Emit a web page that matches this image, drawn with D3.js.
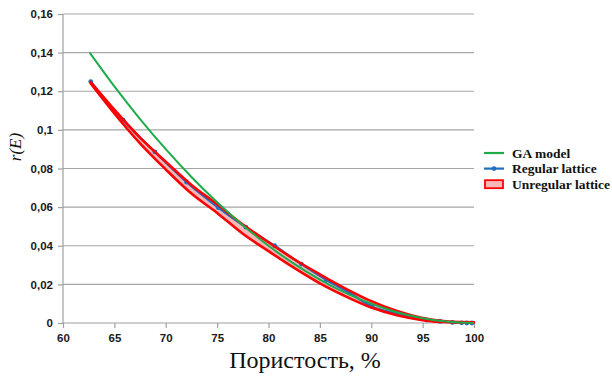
<!DOCTYPE html>
<html>
<head>
<meta charset="utf-8">
<script src="https://cdn.jsdelivr.net/npm/d3@7"></script>
<style>
  body { margin: 0; background: #fff; }
  .tick text { font-family: "Liberation Sans", Arial, sans-serif; font-weight: bold; font-size: 11.5px; fill: #1a1a1a; }
</style>
</head>
<body>
<div id="chart"></div>
<script>
// Data
var porosityGA = [62.6, 65, 67.5, 70, 72.5, 75, 77.5, 80, 82.5, 85, 87.5, 90, 92.5, 95, 97.5, 100];
var rGA = [0.140, 0.1225, 0.1056, 0.090, 0.0756, 0.0625, 0.0506, 0.040, 0.0306, 0.0225, 0.0156, 0.010, 0.0056, 0.0025, 0.0006, 0.0];

var porosityReg = [62.7, 65.85, 68.94, 72.03, 75.1, 77.8, 80.6, 83.2, 85.6, 87.9, 90.06, 92.6, 95.4, 96.7, 97.9, 98.8, 99.3, 99.8];
var rReg = [0.125, 0.105, 0.0886, 0.0729, 0.0598, 0.0496, 0.0400, 0.0305, 0.0224, 0.0155, 0.0086, 0.0048, 0.0015, 0.0008, 0.0003, 0.0001, 0.0, 0.0];

var porosityUnreg = [62.7, 65, 67.5, 70, 72.5, 75, 77.5, 80, 82.5, 85, 87.5, 90, 92.5, 95, 97.5, 100];
var rUnregUpper = [0.1248, 0.1105, 0.0960, 0.0835, 0.0715, 0.0615, 0.0510, 0.0418, 0.0330, 0.0252, 0.0178, 0.0113, 0.0062, 0.0026, 0.0008, 0.0004];
var rUnregLower = [0.1240, 0.1085, 0.0930, 0.0795, 0.0670, 0.0570, 0.0462, 0.0372, 0.0285, 0.0205, 0.0138, 0.0080, 0.0040, 0.0015, 0.0004, 0.0002];

var xTicks = [60, 65, 70, 75, 80, 85, 90, 95, 100];
var yTicks = [0, 0.02, 0.04, 0.06, 0.08, 0.1, 0.12, 0.14, 0.16];
var legendLabels = ["GA model", "Regular lattice", "Unregular lattice"];

var svgWidth = 612;
var svgHeight = 379;
var margin = { top: 14, right: 138, bottom: 56, left: 63 };
var width = svgWidth - margin.left - margin.right;
var height = svgHeight - margin.top - margin.bottom;

var svg = d3.select("#chart")
  .append("svg")
  .attr("width", svgWidth)
  .attr("height", svgHeight);

var chartGroup = svg.append("g")
  .attr("transform", `translate(${margin.left}, ${margin.top})`);

var xScale = d3.scaleLinear().domain([60, 100]).range([0, width]);
var yScale = d3.scaleLinear().domain([0, 0.16]).range([height, 0]);

var fmt = function(d) { return String(d).replace(".", ","); };

// gridlines
chartGroup.selectAll(".grid")
  .data(yTicks.filter(d => d > 0))
  .enter()
  .append("line")
  .attr("x1", 0)
  .attr("x2", width)
  .attr("y1", d => yScale(d))
  .attr("y2", d => yScale(d))
  .attr("stroke", "#a6a6a6")
  .attr("stroke-width", 1.2);

// axes
var leftAxis = d3.axisLeft(yScale).tickValues(yTicks).tickFormat(fmt).tickSize(5).tickPadding(5);
var bottomAxis = d3.axisBottom(xScale).tickValues(xTicks).tickSize(5).tickPadding(6);

var gy = chartGroup.append("g").call(leftAxis);
var gx = chartGroup.append("g").attr("transform", `translate(0, ${height})`).call(bottomAxis);
[gx, gy].forEach(function(g) {
  g.selectAll("path").attr("stroke", "#a0a0a0").attr("stroke-width", 1.2);
  g.selectAll("line").attr("stroke", "#a0a0a0").attr("stroke-width", 1.2);
});
gy.select(".domain").attr("d", `M0,0V${height}`);
gx.select(".domain").attr("d", `M0,0H${width}`);

// unregular lattice band
var bandData = porosityUnreg.map((p, i) => ({ p: p, lo: rUnregLower[i], hi: rUnregUpper[i] }));
var area = d3.area()
  .x(d => xScale(d.p))
  .y0(d => yScale(d.lo))
  .y1(d => yScale(d.hi))
  .curve(d3.curveMonotoneX);
chartGroup.append("path")
  .datum(bandData)
  .attr("d", area)
  .attr("fill", "#f9b8b8");

// regular lattice
var regData = porosityReg.map((p, i) => ({ p: p, r: rReg[i] }));
var line = d3.line().x(d => xScale(d.p)).y(d => yScale(d.r)).curve(d3.curveMonotoneX);
chartGroup.append("path")
  .datum(regData)
  .attr("d", line)
  .attr("fill", "none")
  .attr("stroke", "#1f6fc5")
  .attr("stroke-width", 2.2);
chartGroup.selectAll(".mk")
  .data(regData)
  .enter()
  .append("circle")
  .attr("cx", d => xScale(d.p))
  .attr("cy", d => yScale(d.r))
  .attr("r", 2.4)
  .attr("fill", "#1f6fc5");

// band outline
chartGroup.append("path")
  .datum(bandData)
  .attr("d", area)
  .attr("fill", "none")
  .attr("stroke", "#ff0000")
  .attr("stroke-width", 2.6)
  .attr("stroke-linejoin", "round");

// GA model
var gaData = porosityGA.map((p, i) => ({ p: p, r: rGA[i] }));
chartGroup.append("path")
  .datum(gaData)
  .attr("d", line)
  .attr("fill", "none")
  .attr("stroke", "#1fab4a")
  .attr("stroke-width", 2);

// axis titles
svg.append("text")
  .attr("x", 305)
  .attr("y", 368)
  .attr("text-anchor", "middle")
  .style("font-family", "'Liberation Serif', 'Times New Roman', serif")
  .style("font-size", "24px")
  .style("fill", "#111")
  .text("Пористость, %");

svg.append("text")
  .attr("transform", "translate(21, 147) rotate(-90)")
  .attr("text-anchor", "middle")
  .style("font-family", "'Liberation Serif', 'Times New Roman', serif")
  .style("font-style", "italic")
  .style("font-size", "17px")
  .style("fill", "#111")
  .text("r(E)");

// legend
var legend = svg.append("g").attr("transform", "translate(484, 153)");
legendLabels.forEach(function(label, i) {
  var g = legend.append("g").attr("transform", `translate(0, ${i * 15.6})`);
  if (i === 0) {
    g.append("line").attr("x1", 0).attr("x2", 20).attr("y1", 0).attr("y2", 0)
      .attr("stroke", "#1fab4a").attr("stroke-width", 2.2);
  } else if (i === 1) {
    g.append("line").attr("x1", 0).attr("x2", 20).attr("y1", 0).attr("y2", 0)
      .attr("stroke", "#1f6fc5").attr("stroke-width", 2.2);
    g.append("circle").attr("cx", 10).attr("cy", 0).attr("r", 2.4).attr("fill", "#1f6fc5");
  } else {
    g.append("rect").attr("x", 1).attr("y", -4).attr("width", 18).attr("height", 8)
      .attr("fill", "#f9b8b8").attr("stroke", "#ff0000").attr("stroke-width", 1.8);
  }
  g.append("text")
    .attr("x", 28)
    .attr("y", 4.5)
    .style("font-family", "'Liberation Serif', 'Times New Roman', serif")
    .style("font-weight", "bold")
    .style("font-size", "13.5px")
    .style("fill", "#111")
    .text(label);
});
</script>
</body>
</html>
